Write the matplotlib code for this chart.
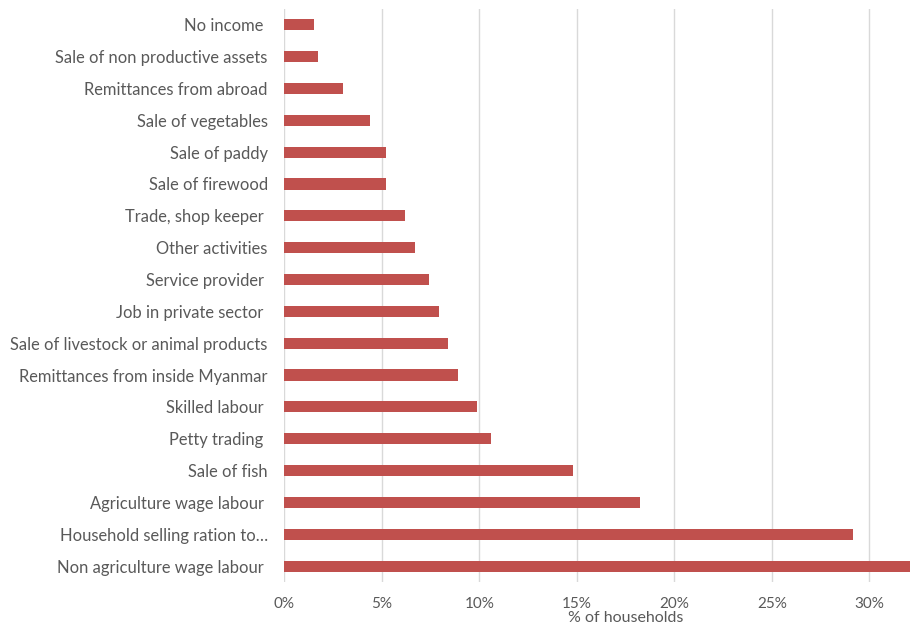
"""Household income sources, horizontal bar chart."""

import matplotlib

matplotlib.use("Agg")
import matplotlib.pyplot as plt
from matplotlib.ticker import FuncFormatter

plt.rcParams["font.family"] = ["Lato", "DejaVu Sans"]

# top to bottom as in the reference
categories = [
    "No income ",
    "Sale of non productive assets",
    "Remittances from abroad",
    "Sale of vegetables",
    "Sale of paddy",
    "Sale of firewood",
    "Trade, shop keeper ",
    "Other activities",
    "Service provider ",
    "Job in private sector ",
    "Sale of livestock or animal products",
    "Remittances from inside Myanmar",
    "Skilled labour ",
    "Petty trading ",
    "Sale of fish",
    "Agriculture wage labour ",
    "Household selling ration to…",
    "Non agriculture wage labour ",
]
share_pct = [
    1.5, 1.7, 3.0, 4.4, 5.2, 5.2, 6.2, 6.7, 7.4, 7.9,
    8.4, 8.9, 9.85, 10.6, 14.8, 18.25, 29.15, 33.0,
]
x_ticks = [0, 5, 10, 15, 20, 25, 30]

BAR_COLOR = "#C0504D"
TEXT_COLOR = "#595959"
GRID_COLOR = "#D9D9D9"

fig = plt.figure(figsize=(9.1, 6.25), dpi=100)
# plot area runs past the right edge, as in the cropped original
ax = fig.add_axes([0.3126, 0.0688, 0.75, 0.917])

ypos = list(range(len(categories)))
ax.barh(ypos, share_pct, height=0.35, color=BAR_COLOR, zorder=3)
ax.set_yticks(ypos)
ax.set_yticklabels(categories)
ax.set_ylim(len(categories) - 0.5, -0.5)

ax.set_xlim(0, 35)
ax.set_xticks(x_ticks)
ax.xaxis.set_major_formatter(FuncFormatter(lambda v, _: f"{v:.0f}%"))
ax.grid(axis="x", color=GRID_COLOR, linewidth=1.0, zorder=0)
for side in ["top", "right", "bottom", "left"]:
    ax.spines[side].set_visible(False)

ax.tick_params(axis="y", length=0, pad=12, labelsize=11.9, labelcolor=TEXT_COLOR)
ax.tick_params(axis="x", length=0, pad=11, labelsize=11, labelcolor=TEXT_COLOR)
ax.set_xlabel("% of households", fontsize=11.5, color=TEXT_COLOR, labelpad=0)

fig.savefig("out.png", dpi=100)
